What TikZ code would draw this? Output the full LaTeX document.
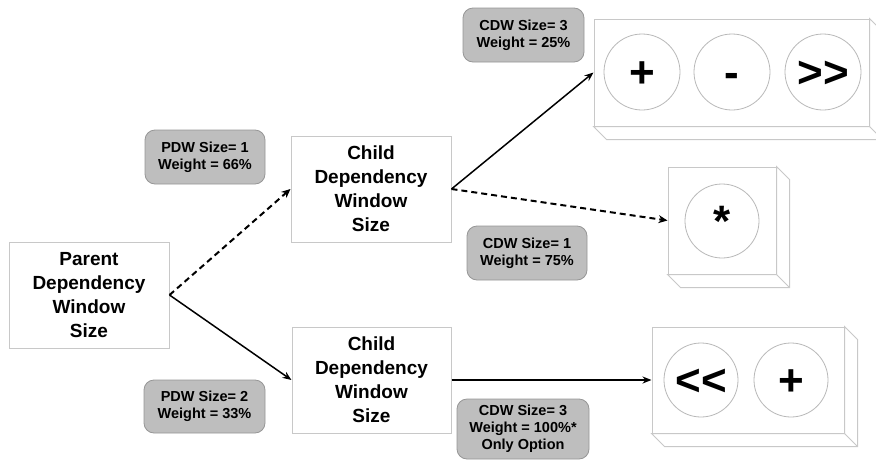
\documentclass[tikz,border=0pt]{standalone}
\usepackage{fontspec}
\setmainfont{Liberation Sans}
\usetikzlibrary{arrows.meta}
\definecolor{boxline}{RGB}{200,200,200}
\definecolor{circline}{RGB}{185,185,185}
\definecolor{labfill}{RGB}{190,190,190}
\definecolor{labline}{RGB}{150,150,150}
\tikzset{
  dbox/.style={draw=boxline, line width=1pt, fill=white, align=center, inner sep=0pt,
    font=\fontsize{19}{24}\selectfont\bfseries},
  lab/.style={draw=labline, line width=0.8pt, fill=labfill, rounded corners=10pt, align=center, inner sep=0pt,
    font=\fontsize{14.5}{17}\selectfont\bfseries},
  front/.style={draw=boxline, line width=1pt, fill=white, inner sep=0pt},
  side/.style={draw=boxline, line width=1pt, fill=white},
  circ/.style={draw=circline, line width=0.8pt},
  sym/.style={anchor=base, inner sep=0pt, font=\fontsize{44}{44}\selectfont\bfseries},
  conn/.style={line width=1.5pt, -{Stealth[length=9pt,width=7pt]}},
  dconn/.style={line width=2pt, dash pattern=on 6pt off 4pt, -{Stealth[length=9pt,width=8pt]}}
}
\begin{document}
\begin{tikzpicture}[x=1pt,y=-1pt]
\useasboundingbox (0,0) rectangle (876,461);
% main boxes
\node[dbox, minimum width=160pt, minimum height=106pt] (parent) at (89,295) {Parent\\Dependency\\Window\\Size};
\node[dbox, minimum width=160pt, minimum height=106pt] (child1) at (371,189) {Child\\Dependency\\Window\\Size};
\node[dbox, minimum width=159pt, minimum height=106pt] (child2) at (371.5,380) {Child\\Dependency\\Window\\Size};
% labels
\node[lab, minimum width=120pt, minimum height=54pt] (pdw1) at (205,157) {PDW Size= 1\\Weight = 66\%};
\node[lab, minimum width=121pt, minimum height=53pt] (pdw2) at (204.5,406.5) {PDW Size= 2\\Weight = 33\%};
\node[lab, minimum width=121pt, minimum height=54pt] (cdw3a) at (523.5,35) {CDW Size= 3\\Weight = 25\%};
\node[lab, minimum width=120pt, minimum height=54pt] (cdw1) at (527,253) {CDW Size= 1\\Weight = 75\%};
\node[lab, minimum width=132pt, minimum height=60pt] (cdw3b) at (523,429) {CDW Size= 3\\Weight = 100\%*\\Only Option};
% 3D boxes
\node[front, minimum width=275pt, minimum height=107pt] (tb) at (731.5,72.5) {};
\node[front, minimum width=108pt, minimum height=107pt] (mb) at (722,220.5) {};
\node[front, minimum width=192pt, minimum height=106pt] (bb) at (748,380) {};
\foreach \b in {tb,mb,bb}{
  \draw[side] (\b.north east) -- ++(13,13) -- ([shift={(13,13)}]\b.south east) -- ([shift={(13,13)}]\b.south west) -- (\b.south west) -- (\b.south east) -- cycle;
  \draw[side] (\b.south east) -- ++(13,13);
}
% circles
\node[circ, circle, minimum size=76pt, inner sep=0pt] (c1) at (642,72) {};
\node[circ, circle, minimum size=76pt, inner sep=0pt] (c2) at (732,72) {};
\node[circ, circle, minimum size=76pt, inner sep=0pt] (c3) at (823,72) {};
\node[circ, circle, minimum size=74pt, inner sep=0pt] (c4) at (722,221) {};
\node[circ, circle, minimum size=74pt, inner sep=0pt] (c5) at (701,380) {};
\node[circ, circle, minimum size=74pt, inner sep=0pt] (c6) at (791,380) {};
% symbols
\node[sym] (s1) at ([yshift=-15.6pt]c1.center) {+};
\node[sym] (s2) at ([yshift=-15.6pt]c2.center) {-};
\node[sym] (s3) at ([yshift=-15.6pt]c3.center) {>\kern0pt>};
\node[sym] (s4) at ([yshift=-15.6pt]c4.center) {*};
\node[sym] (s5) at ([yshift=-15.6pt]c5.center) {<\kern0pt<};
\node[sym] (s6) at ([yshift=-15.6pt]c6.center) {+};
% connectors
\draw[dconn] (parent.east) -- (child1.west);
\draw[conn] (parent.east) -- (child2.west);
\draw[conn] (child1.east) -- (tb.west);
\draw[dconn] (child1.east) -- (mb.west);
\draw[conn] (child2.east) -- (bb.west);
\end{tikzpicture}
\end{document}
